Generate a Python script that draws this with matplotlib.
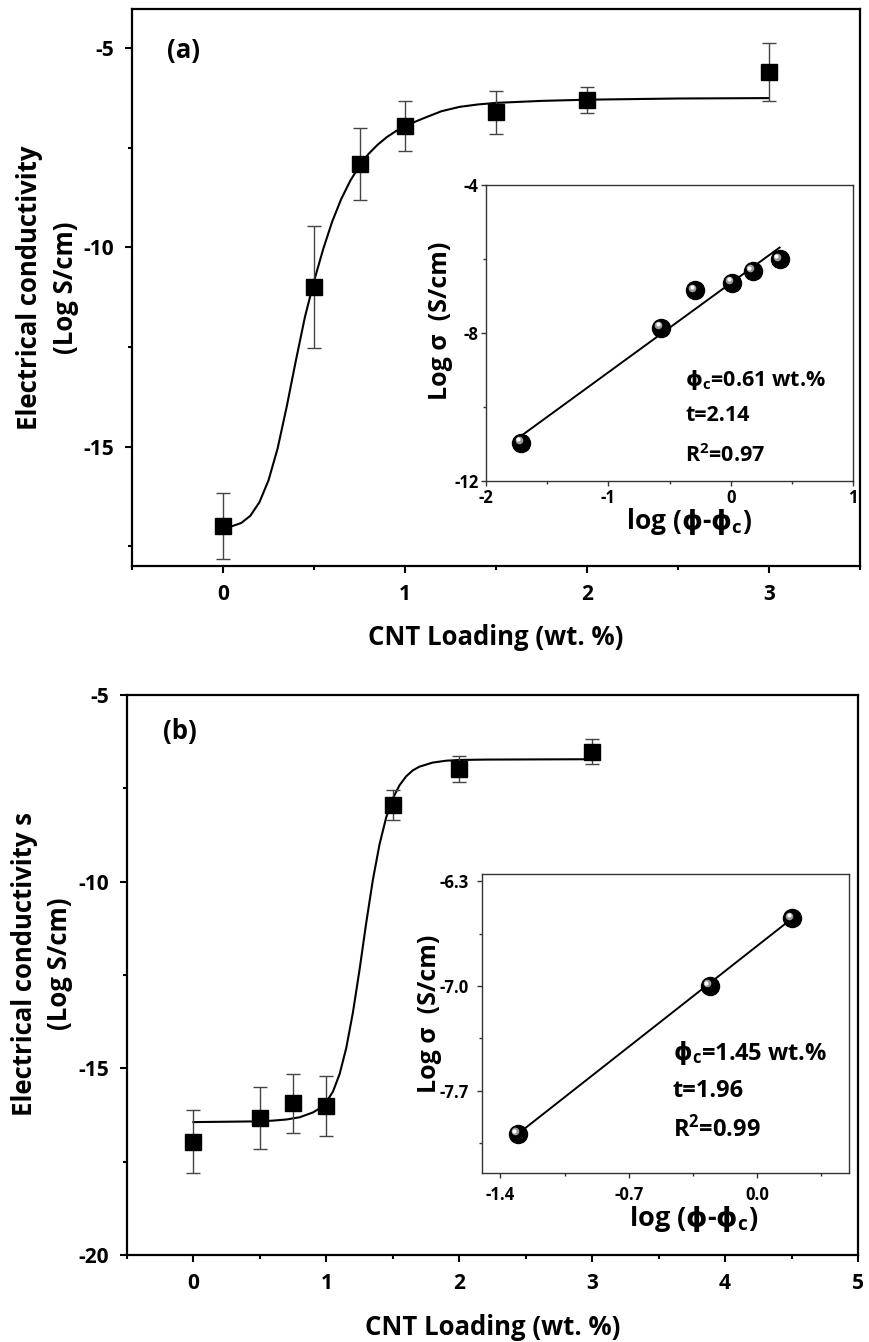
import matplotlib
matplotlib.use("Agg")
import matplotlib.pyplot as plt
from matplotlib.ticker import MultipleLocator, FixedLocator, FormatStrFormatter
from matplotlib.transforms import offset_copy

plt.rcParams['font.family'] = ['Open Sans', 'DejaVu Sans']
plt.rcParams['font.weight'] = 'bold'
plt.rcParams['axes.unicode_minus'] = False
plt.rcParams['mathtext.fontset'] = 'custom'
plt.rcParams['mathtext.rm'] = 'Open Sans:bold'
plt.rcParams['mathtext.it'] = 'Open Sans:bold'
plt.rcParams['mathtext.bf'] = 'DejaVu Sans:bold'

# ---- panel (a) data ----
loading_a = [0, 0.5, 0.75, 1, 1.5, 2, 3]
cond_a = [-17.0, -11.0, -7.9, -6.95, -6.6, -6.3, -5.6]
err_a = [0.83, 1.53, 0.9, 0.63, 0.54, 0.32, 0.73]
fit_x_a = [0.0, 0.05, 0.10, 0.15, 0.20, 0.25, 0.30, 0.35, 0.40, 0.45, 0.50, 0.55, 0.60,
           0.65, 0.70, 0.75, 0.80, 0.85, 0.90, 0.95, 1.00, 1.10, 1.20, 1.30, 1.40, 1.50,
           1.75, 2.00, 2.50, 3.00]
fit_y_a = [-17.04, -17.00, -16.92, -16.74, -16.40, -15.85, -15.05, -14.00, -12.85, -11.75,
           -10.85, -10.05, -9.35, -8.78, -8.32, -7.95, -7.65, -7.42, -7.23, -7.08, -6.95,
           -6.76, -6.58, -6.47, -6.41, -6.37, -6.32, -6.29, -6.26, -6.25]

# inset (a)
logphi_a = [-1.71, -0.57, -0.29, 0.01, 0.18, 0.40]
logsig_a = [-10.96, -7.86, -6.85, -6.64, -6.32, -6.01]
line_x_a = [-1.70, 0.40]
line_y_a = [-10.75, -5.69]

# ---- panel (b) data ----
loading_b = [0, 0.5, 0.75, 1, 1.5, 2, 3]
cond_b = [-16.96, -16.34, -15.94, -16.0, -7.94, -6.98, -6.52]
err_b = [0.85, 0.83, 0.8, 0.8, 0.4, 0.35, 0.33]
fit_x_b = [0.0, 0.5, 0.6, 0.7, 0.8, 0.9, 0.95, 1.0, 1.05, 1.1, 1.15, 1.2, 1.25, 1.3, 1.35,
           1.4, 1.45, 1.5, 1.55, 1.6, 1.65, 1.7, 1.8, 1.9, 2.0, 2.2, 3.0]
fit_y_b = [-16.44, -16.42, -16.40, -16.37, -16.31, -16.18, -16.07, -15.90, -15.62, -15.15,
           -14.45, -13.50, -12.35, -11.10, -9.95, -9.00, -8.28, -7.77, -7.42, -7.18, -7.02,
           -6.92, -6.81, -6.76, -6.74, -6.73, -6.72]

# inset (b)
logphi_b = [-1.306, -0.259, 0.19]
logsig_b = [-7.99, -7.0, -6.547]
line_x_b = [-1.306, 0.19]
line_y_b = [-7.99, -6.547]

W, H = 869, 1342
fig = plt.figure(figsize=(W / 100, H / 100), dpi=100)


def rect(l, r, t, b):
    return [l / W, 1 - b / H, (r - l) / W, (b - t) / H]


def style_main(ax):
    for s in ax.spines.values():
        s.set_linewidth(1.6)
    ax.tick_params(which='both', direction='out', top=False, right=False, width=1.5)
    ax.tick_params(which='major', length=5, labelsize=15, pad=8)
    ax.tick_params(which='minor', length=3)


def style_inset(ax):
    for s in ax.spines.values():
        s.set_linewidth(1.0)
        s.set_color('#333333')
    ax.tick_params(which='both', direction='out', top=False, right=False, width=1.0,
                   color='#333333')
    ax.tick_params(which='major', length=3.5, labelsize=12, pad=2)
    ax.tick_params(which='minor', length=2)


def spheres(ax, x, y):
    ax.plot(x, y, 'o', ms=13, color='black', zorder=4)
    t1 = offset_copy(ax.transData, fig=fig, x=-2.0, y=2.0, units='points')
    ax.plot(x, y, 'o', ms=5.5, color='#9a9a9a', mec='none', transform=t1, zorder=5)
    t2 = offset_copy(ax.transData, fig=fig, x=-2.4, y=2.4, units='points')
    ax.plot(x, y, 'o', ms=3, color='white', mec='none', transform=t2, zorder=6)


def main_panel(ax, x, y, e, fx, fy):
    ax.plot(fx, fy, '-', color='black', lw=1.5, zorder=2, solid_joinstyle='round')
    ax.errorbar(x, y, yerr=e, fmt='none', ecolor='#444444', elinewidth=1.0,
                capsize=5, capthick=1.0, zorder=3)
    ax.plot(x, y, 's', ms=12, color='black', zorder=4)


PHI_C = r'$\mathbf{\phi}_{\mathrm{c}}$'
PHI = r'$\mathbf{\phi}$'

# ---------------- panel (a) ----------------
axa = fig.add_axes(rect(132, 860, 8.5, 566))
main_panel(axa, loading_a, cond_a, err_a, fit_x_a, fit_y_a)
axa.set_xlim(-0.5, 3.5)
axa.set_ylim(-18, -4)
axa.xaxis.set_major_locator(FixedLocator([0, 1, 2, 3]))
axa.xaxis.set_minor_locator(MultipleLocator(0.5))
axa.yaxis.set_major_locator(FixedLocator([-5, -10, -15]))
axa.yaxis.set_minor_locator(FixedLocator([-7.5, -12.5, -17.5]))
style_main(axa)
axa.text(0.5, -0.128, 'CNT Loading (wt. %)', transform=axa.transAxes, ha='center',
         va='center', fontsize=18.5)
axa.text(-0.116, 0.5, 'Electrical conductivity\n(Log S/cm)', transform=axa.transAxes,
         ha='center', va='center', rotation=90, fontsize=18.5, multialignment='center',
         linespacing=1.4)
axa.text(0.048, 0.925, '(a)', transform=axa.transAxes, ha='left', va='center',
         fontsize=18.5)

ina = fig.add_axes(rect(486, 853, 185, 481))
ina.plot(line_x_a, line_y_a, '-', color='black', lw=1.4, zorder=3)
spheres(ina, logphi_a, logsig_a)
ina.set_xlim(-2, 1)
ina.set_ylim(-12, -4)
ina.xaxis.set_major_locator(FixedLocator([-2, -1, 0, 1]))
ina.xaxis.set_minor_locator(MultipleLocator(0.5))
ina.yaxis.set_major_locator(FixedLocator([-4, -8, -12]))
ina.yaxis.set_minor_locator(FixedLocator([-6, -10]))
style_inset(ina)
ina.text(0.553, -0.138, 'log (' + PHI + '-' + PHI_C + ')', transform=ina.transAxes,
         ha='center', va='center', fontsize=19)
ina.text(-0.125, 0.54, 'Log \u03c3  (S/cm)', transform=ina.transAxes, ha='center',
         va='center', rotation=90, fontsize=18)
ina.text(0.543, 0.34, PHI_C + '=0.61 wt.%', transform=ina.transAxes, ha='left',
         va='center', fontsize=15.5)
ina.text(0.543, 0.2225, 't=2.14', transform=ina.transAxes, ha='left', va='center',
         fontsize=15.5)
ina.text(0.543, 0.086, 'R$^{\\mathrm{2}}$=0.97', transform=ina.transAxes, ha='left',
         va='center', fontsize=15.5)

# ---------------- panel (b) ----------------
axb = fig.add_axes(rect(127, 858, 695, 1255))
main_panel(axb, loading_b, cond_b, err_b, fit_x_b, fit_y_b)
axb.set_xlim(-0.5, 5)
axb.set_ylim(-20, -5)
axb.xaxis.set_major_locator(FixedLocator([0, 1, 2, 3, 4, 5]))
axb.xaxis.set_minor_locator(MultipleLocator(0.5))
axb.yaxis.set_major_locator(FixedLocator([-5, -10, -15, -20]))
axb.yaxis.set_minor_locator(FixedLocator([-7.5, -12.5, -17.5]))
style_main(axb)
axb.text(0.5, -0.129, 'CNT Loading (wt. %)', transform=axb.transAxes, ha='center',
         va='center', fontsize=18.5)
axb.text(-0.116, 0.52, 'Electrical conductivity s\n(Log S/cm)', transform=axb.transAxes,
         ha='center', va='center', rotation=90, fontsize=18.5, multialignment='center',
         linespacing=1.4)
axb.text(0.049, 0.934, '(b)', transform=axb.transAxes, ha='left', va='center',
         fontsize=18.5)

inb = fig.add_axes(rect(482, 849, 874, 1173))
inb.plot(line_x_b, line_y_b, '-', color='black', lw=1.4, zorder=3)
spheres(inb, logphi_b, logsig_b)
inb.set_xlim(-1.5, 0.5)
inb.set_ylim(-8.25, -6.25)
inb.xaxis.set_major_locator(FixedLocator([-1.4, -0.7, 0.0]))
inb.xaxis.set_minor_locator(FixedLocator([-1.05, -0.35, 0.35]))
inb.yaxis.set_major_locator(FixedLocator([-6.3, -7.0, -7.7]))
inb.yaxis.set_minor_locator(FixedLocator([-6.65, -7.35, -8.05]))
inb.xaxis.set_major_formatter(FormatStrFormatter('%.1f'))
inb.yaxis.set_major_formatter(FormatStrFormatter('%.1f'))
style_inset(inb)
inb.tick_params(which='major', pad=6)
inb.text(0.576, -0.155, 'log (' + PHI + '-' + PHI_C + ')', transform=inb.transAxes,
         ha='center', va='center', fontsize=19.5)
inb.text(-0.142, 0.532, 'Log \u03c3  (S/cm)', transform=inb.transAxes, ha='center',
         va='center', rotation=90, fontsize=18)
inb.text(0.52, 0.403, PHI_C + '=1.45 wt.%', transform=inb.transAxes, ha='left',
         va='center', fontsize=17)
inb.text(0.52, 0.275, 't=1.96', transform=inb.transAxes, ha='left', va='center', fontsize=17)
inb.text(0.52, 0.147, 'R$^{\\mathrm{2}}$=0.99', transform=inb.transAxes, ha='left',
         va='center', fontsize=17)

fig.savefig('out.png', dpi=100)
